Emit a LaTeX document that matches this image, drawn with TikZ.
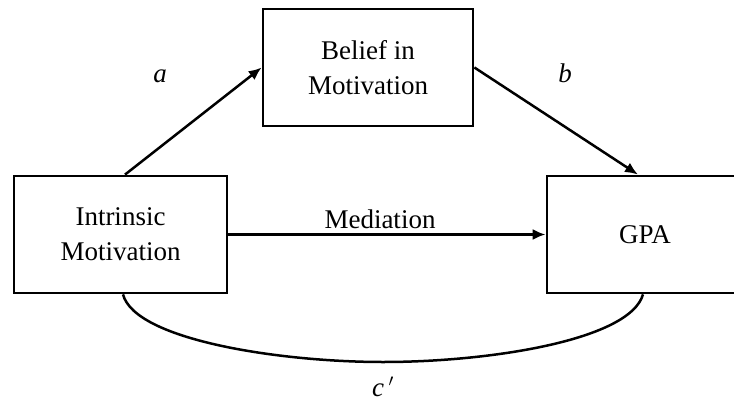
\documentclass[tikz,border=0pt]{standalone}
\usepackage{fontspec}
\setmainfont{Liberation Serif}
\usetikzlibrary{arrows.meta}
\begin{document}
\begin{tikzpicture}[x=1pt,y=-1pt,
  box/.style={draw,line width=2.8pt,minimum width=213pt,minimum height=117pt,align=center,inner sep=0pt,
    font=\fontsize{27}{35}\selectfont},
  conn/.style={line width=2.5pt,-{Latex[length=13pt,width=11pt]}},
  lab/.style={font=\fontsize{27}{32}\selectfont\itshape},
  txt/.style={font=\fontsize{27}{32}\selectfont}]
\path[use as bounding box,clip] (0,0) rectangle (734,402);
\fill[white] (0,0) rectangle (734,402);
\node[box] (L) at (120.5,234.5) {Intrinsic\\Motivation};
\node[box,minimum width=210pt] (T) at (368,67.5) {Belief in\\Motivation};
\node[box,minimum width=196pt] (G) at (645,234.5) {GPA};
\draw[conn] ([xshift=4.5pt]L.north) -- (T.west);
\draw[conn] (T.east) -- ([xshift=-7pt]G.north);
\draw[conn] (L.east) -- (G.west);
\coordinate (cm) at (383,362);
\draw[line width=2.5pt] ([xshift=2.5pt]L.south) .. controls (135,340) and (280,362) .. (cm)
  .. controls (490,362) and (630,340) .. ([xshift=-2pt]G.south);
\node[lab] (la) at (160,76) {a};
\node[lab] (lb) at (565,73) {b};
\node[txt,anchor=base] (lm) at (380,228) {Mediation};
\node[lab,anchor=base] (lc) at (383,396) {c\,$'$};
\end{tikzpicture}
\end{document}
